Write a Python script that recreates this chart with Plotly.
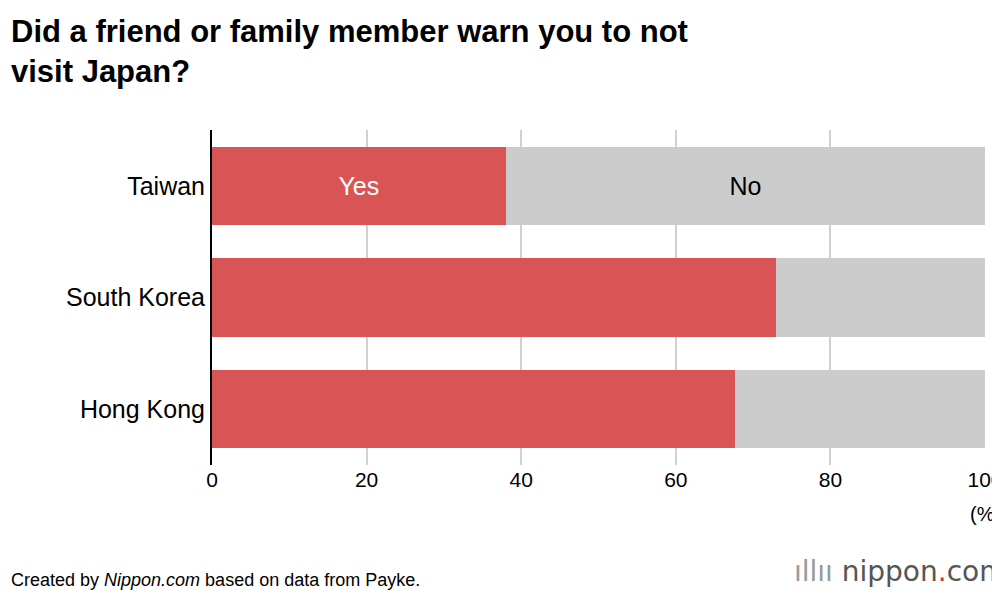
import plotly.graph_objects as go

regions = ['Taiwan', 'South Korea', 'Hong Kong']
yes_pct = [38.0, 72.9, 67.6]
no_pct = [100 - v for v in yes_pct]
ticks = [0, 20, 40, 60, 80, 100]

fig = go.Figure()
fig.add_trace(go.Bar(
    y=regions, x=yes_pct, orientation='h', marker=dict(color='#D95555', line=dict(width=0)),
    text=['Yes', '', ''], textposition='inside', insidetextanchor='middle',
    textfont=dict(size=25, color='white'), hoverinfo='x'
))
fig.add_trace(go.Bar(
    y=regions, x=no_pct, orientation='h', marker=dict(color='#CCCCCC', line=dict(width=0)),
    text=['No', '', ''], textposition='inside', insidetextanchor='middle',
    textfont=dict(size=25, color='black'), hoverinfo='x'
))

fig.update_layout(
    width=1000, height=612, barmode='stack', bargap=0.3, showlegend=False,
    margin=dict(l=204, r=23, t=122, b=155, autoexpand=False),
    paper_bgcolor='white', plot_bgcolor='white',
    font=dict(family='Liberation Sans, Arial, sans-serif', color='black'),
    uniformtext=dict(minsize=10, mode='show'),
)
fig.update_xaxes(range=[0, 100], tickvals=ticks, showgrid=True, gridcolor='#D0D0D0', gridwidth=2,
                 zeroline=False, tickfont=dict(size=21), ticks='', fixedrange=True, automargin=False)
fig.update_yaxes(autorange='reversed', tickfont=dict(size=25), ticks='', ticklen=0, automargin=False,
                 showline=True, linecolor='black', linewidth=2, fixedrange=True)
fig.add_annotation(text='<b>Did a friend or family member warn you to not<br>visit Japan?</b>',
                   xref='paper', yref='paper', x=-0.262, y=1.0, yshift=118, xanchor='left', yanchor='top',
                   align='left', showarrow=False, font=dict(size=31))
fig.add_annotation(text='(%)', xref='paper', yref='paper', x=1.0, y=0, yshift=-62, xanchor='center',
                   showarrow=False, font=dict(size=20))
fig.add_annotation(text='Created by <i>Nippon.com</i> based on data from Payke.', xref='paper', yref='paper',
                   x=-0.262, y=0, yshift=-127, xanchor='left', showarrow=False, font=dict(size=18))
fig.add_annotation(text='<span style="color:#999">ıllıı </span><span style="color:#555">nippon</span><span style="color:#D93333">.</span><span style="color:#555">com</span>',
                   xref='paper', yref='paper', x=1.03, y=0, yshift=-125, xanchor='right', showarrow=False,
                   font=dict(size=28, family='DejaVu Sans'))

fig.write_html("out.html")
